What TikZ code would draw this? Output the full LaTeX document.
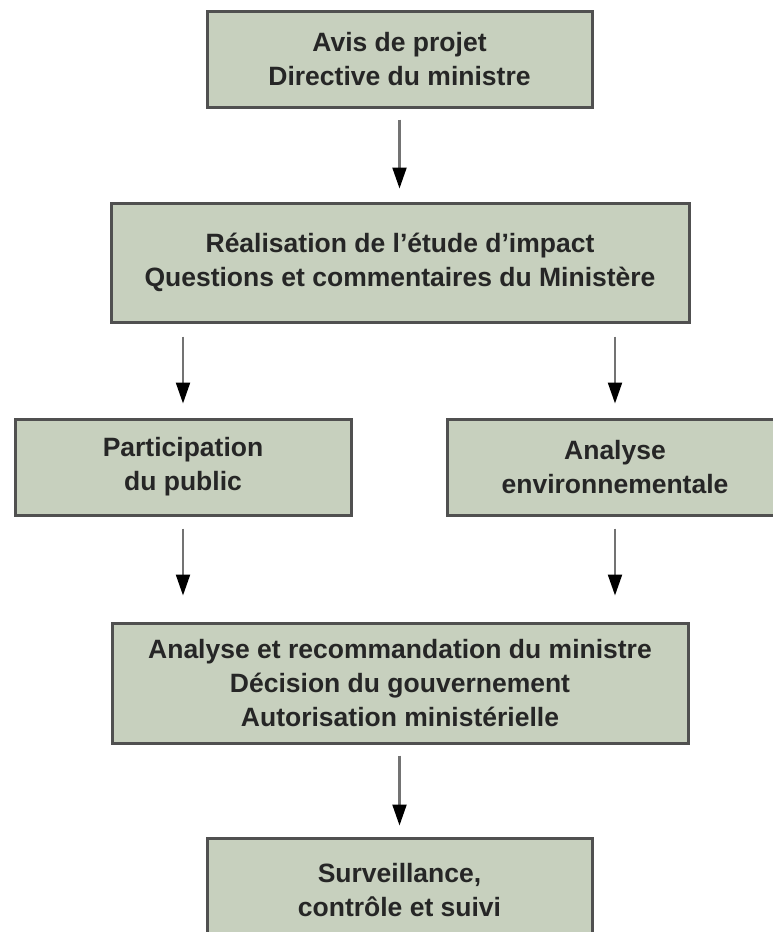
\documentclass[tikz,border=0pt]{standalone}
\usepackage{fontspec}
\setmainfont{Liberation Sans}
\usetikzlibrary{arrows.meta}
\definecolor{boxfill}{RGB}{199,208,190}
\definecolor{boxline}{RGB}{80,80,80}
\definecolor{shaft}{RGB}{115,115,115}
\begin{document}
\begin{tikzpicture}[x=1pt,y=-1pt,
  etape/.style={draw=boxline,fill=boxfill,line width=3pt,align=center,inner sep=0pt,
    font=\fontsize{26.5}{34}\selectfont\bfseries,text=black!85},
  fleche/.style={draw=shaft,line width=2.2pt,-{Triangle[length=21pt,width=14pt,black]}}]
\useasboundingbox (0,0) rectangle (773,932);
\clip (0,0) rectangle (773,932);

\node[etape,minimum width=385pt,minimum height=96pt] (avis) at (399.5,59) {Avis de projet\\Directive du ministre};
\node[etape,minimum width=578pt,minimum height=119pt] (etude) at (400,262.5) {R\'ealisation de l'\'etude d'impact\\Questions et commentaires du Minist\`ere};
\node[etape,minimum width=336pt,minimum height=96pt] (public) at (183,467) {Participation\\du public};
\node[etape,minimum width=336pt,minimum height=96pt] (analyse) at (615,467) {Analyse\\environnementale};
\node[etape,minimum width=576pt,minimum height=120pt] (decision) at (400,683) {Analyse et recommandation du ministre\\D\'ecision du gouvernement\\Autorisation minist\'erielle};
\node[etape,minimum width=385pt,minimum height=104pt] (suivi) at (399.5,890) {Surveillance,\\contr\^ole et suivi};

\draw[fleche,shorten <=11pt,shorten >=13pt] (avis.south) -- (avis.south |- etude.north);
\draw[fleche,shorten <=13pt,shorten >=14pt] (etude.south -| public.north) -- (public.north);
\draw[fleche,shorten <=13pt,shorten >=14pt] (etude.south -| analyse.north) -- (analyse.north);
\draw[fleche,shorten <=12pt,shorten >=26pt] (public.south) -- (public.south |- decision.north);
\draw[fleche,shorten <=12pt,shorten >=26pt] (analyse.south) -- (analyse.south |- decision.north);
\draw[fleche,shorten <=11pt,shorten >=11pt] (decision.south -| suivi.north) -- (suivi.north);
\end{tikzpicture}
\end{document}
